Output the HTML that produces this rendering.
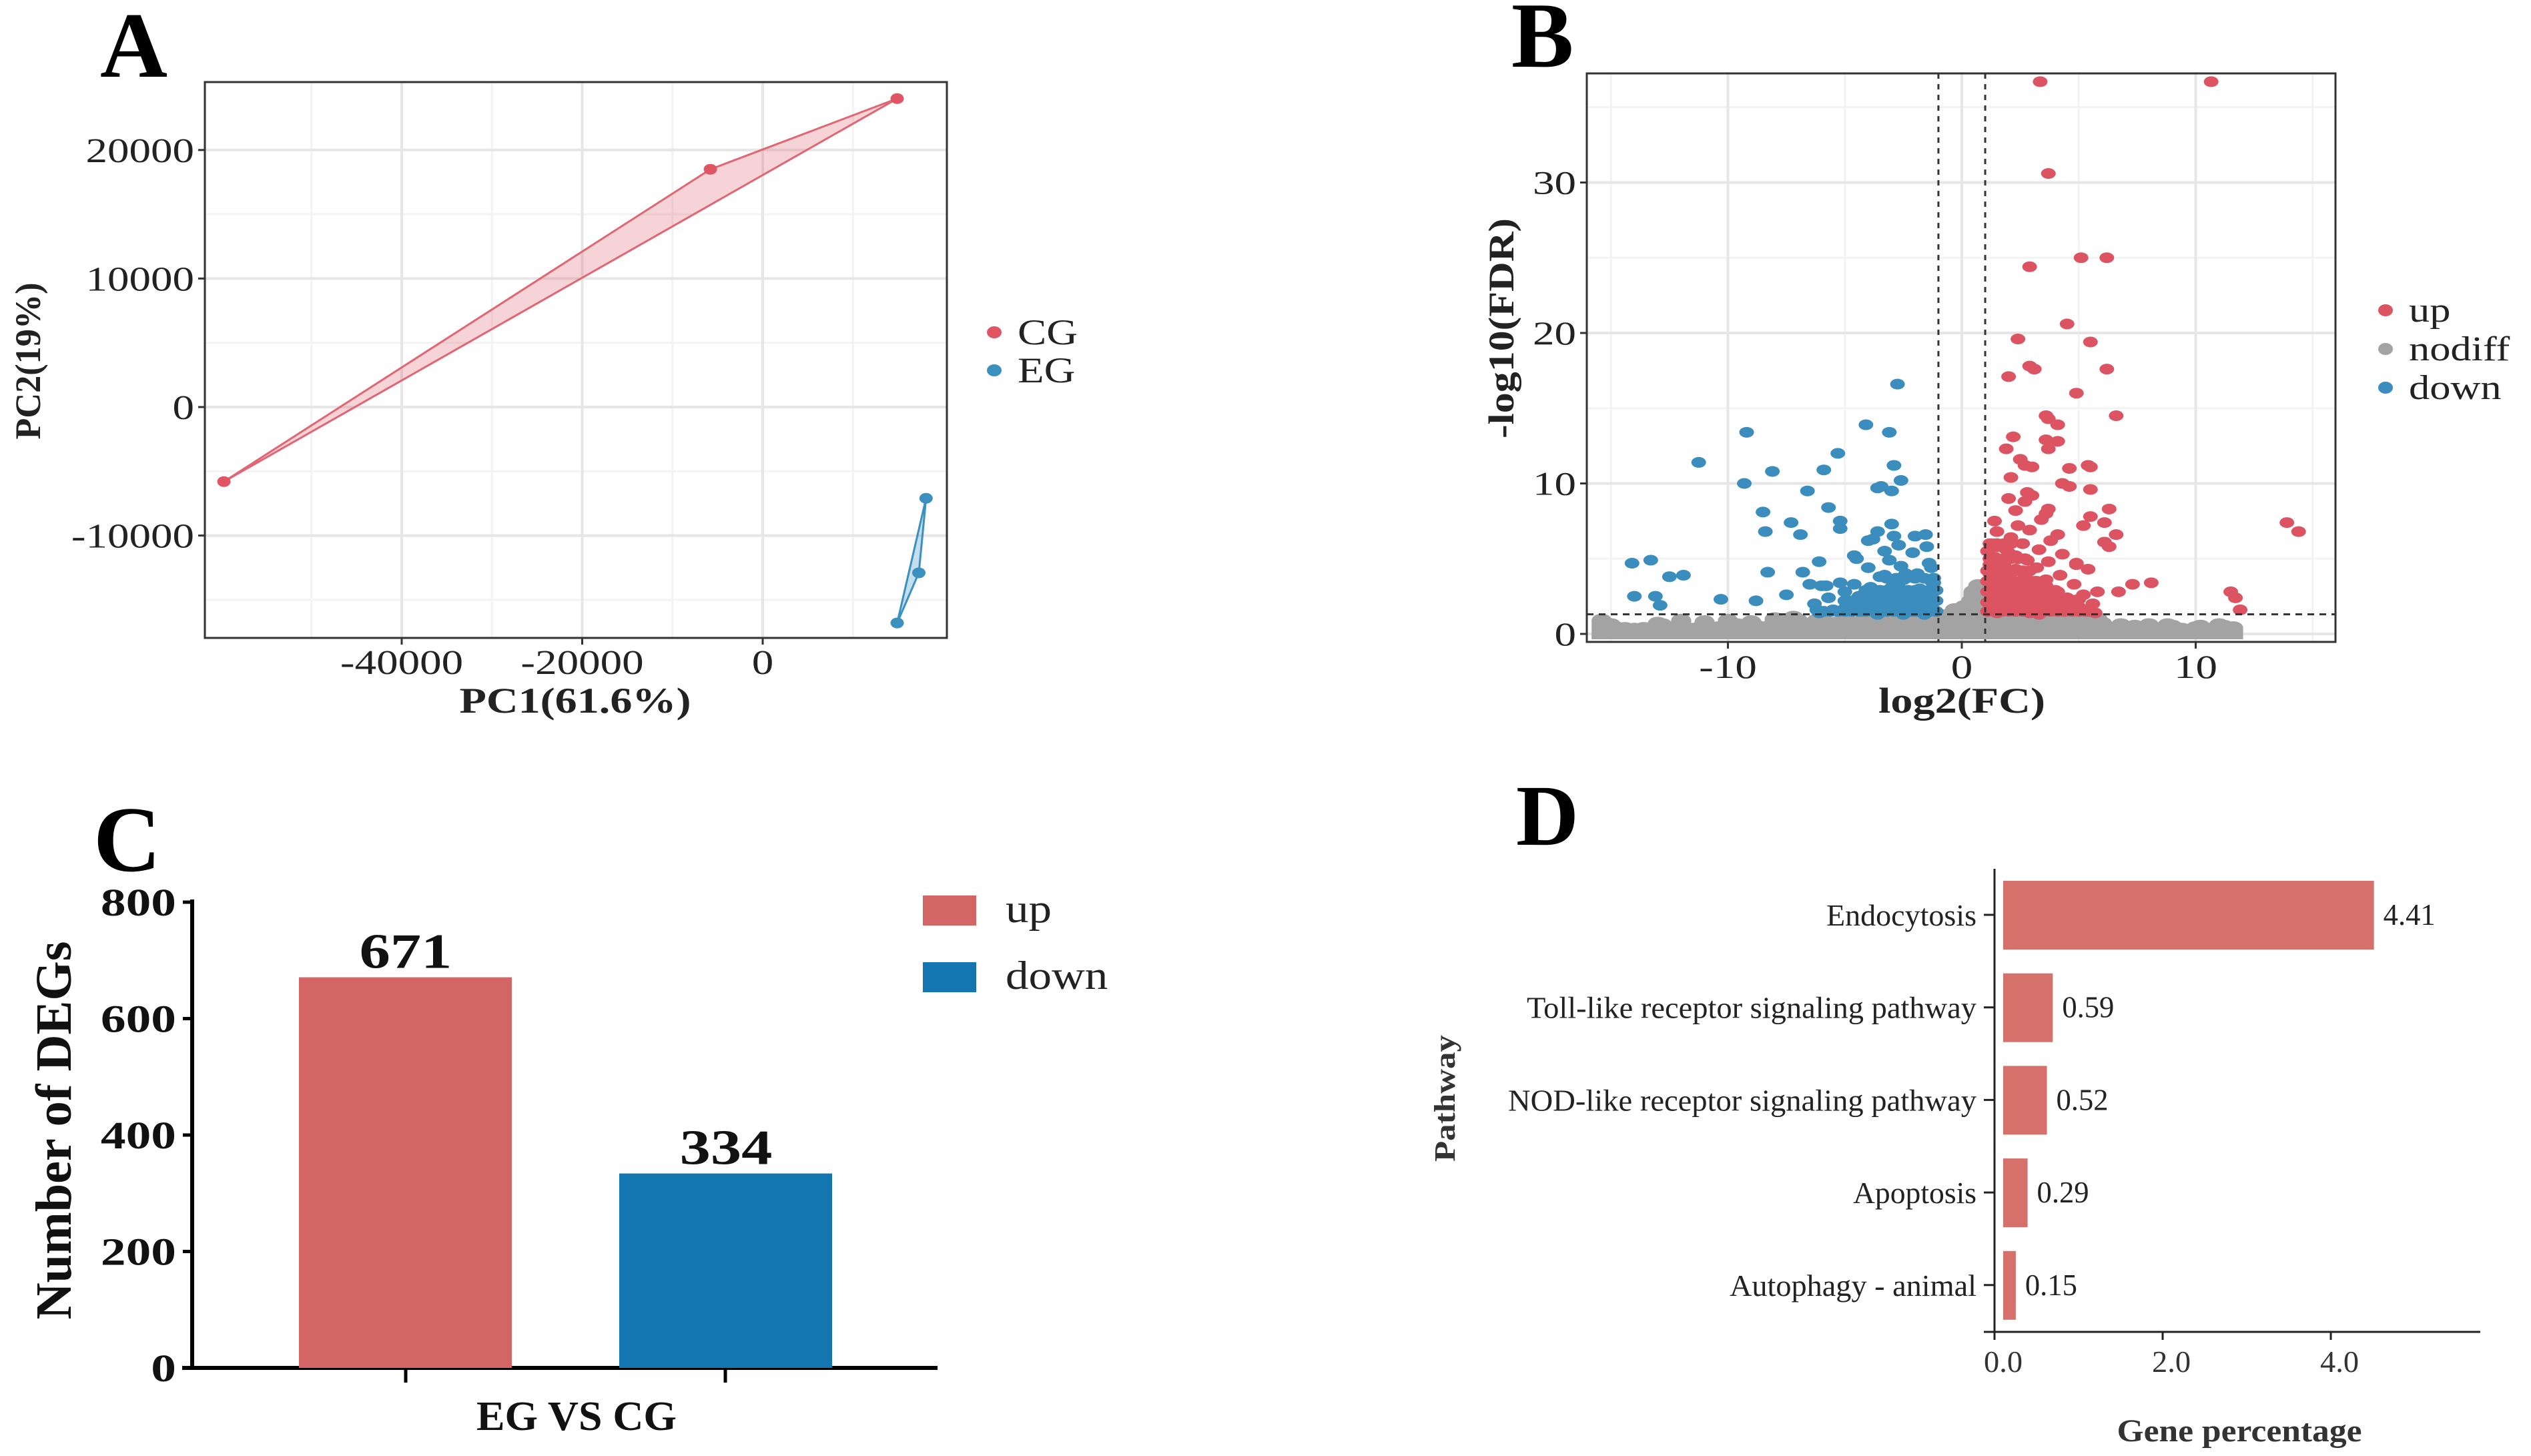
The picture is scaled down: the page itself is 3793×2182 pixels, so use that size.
<!DOCTYPE html>
<html><head><meta charset="utf-8"><style>
html,body{margin:0;padding:0;background:#fff;}
svg{display:block;font-family:"Liberation Serif",serif;}
</style></head><body>
<svg id="fig" width="3793" height="2182" viewBox="0 0 3793 2182" xmlns="http://www.w3.org/2000/svg">
<rect width="3793" height="2182" fill="#fff"/>
<g id="pA"></g>
<g id="pB"></g>
<g id="pC"></g>
<g id="pD"></g>
</svg>
<script>
// ---------- Panel A data ----------
const pcaGroups = ["CG", "EG"];
const pcaCG_x = [14900, -5800, -59700];
const pcaCG_y = [24000, 18500, -5800];
const pcaEG_x = [18100, 17300, 14900];
const pcaEG_y = [-7100, -12900, -16800];
const pcaXTicks = [-40000, -20000, 0];
const pcaYTicks = [-10000, 0, 10000, 20000];

// ---------- Panel B data ----------
const volUp_x = [3.35,10.66,3.7,5.1,6.2,2.9,4.5,2.4,5.5,2.9,3.1,6.2,2.0,4.9,3.6,3.7,6.6,4.1,2.2,3.6,4.1,1.9,3.7,2.5,2.7,3.0,5.4,5.5,4.6,2.1,4.3,4.6,5.5,2.8,3.7,6.3,5.5,6.1,5.2,13.9,14.4,6.6,6.1,6.3,4.9,5.4,7.3,8.1,6.7,11.5,11.7,11.9,5.8,
 1.1,1.2,1.3,1.2,1.4,1.3,1.5,1.6,1.7,1.8,1.9,1.7,2.0,2.1,2.2,2.3,2.1,2.4,2.5,2.6,2.7,2.8,2.6,2.9,3.0,3.1,3.2,3.3,3.4,3.5,3.6,3.7,3.8,3.9,4.0,4.2,4.3,4.4,4.6,4.8,5.0,5.2,5.4,5.6,5.7,2.3,2.7,1.4,3.0,2.0,1.1,1.1,1.5,2.9,3.3,4.9,4.1,3.6,
 1.3,1.5,1.8,2.2,2.5,2.8,3.2,3.6,4.0,4.4,1.4,1.9,2.4,2.9,3.4,3.9,4.5,5.0,1.6,2.1,2.6,3.1,3.6,1.2,1.8,2.3,2.8,1.5,2.0,
 1.1,1.4,1.7,2.0,2.3,2.6,2.9,3.2,3.5,3.8,4.1,4.4,4.7,5.0,5.3,1.1,1.4,1.7,2.0,2.3,2.6,2.9,3.2,3.5,3.8,4.1,4.4,4.7,1.1,1.4,1.7,2.0,2.3,2.6,2.9,3.2,3.5,3.8,4.1,1.1,1.4,1.7,2.0,2.3,2.6,2.9,3.2,3.5,1.1,1.4,1.7,2.0,2.3,2.6,2.9,1.2,1.5,1.8,2.1,2.4,2.7,1.2,1.5,1.8,2.1];
const volUp_y = [36.7,36.7,30.6,25.0,25.0,24.4,20.6,19.6,19.4,17.8,17.6,17.6,17.1,16.0,14.5,14.3,14.5,13.9,13.1,12.9,12.8,12.3,12.3,11.6,11.2,11.1,11.2,11.1,11.0,10.4,10.0,9.8,9.6,9.4,8.3,8.3,7.8,7.4,7.2,7.4,6.8,6.6,6.1,5.8,4.7,4.3,3.3,3.4,2.8,2.8,2.4,1.6,2.8,
 1.5,2.2,3.0,4.0,5.1,6.0,6.8,2.6,3.6,4.6,5.6,1.8,2.4,3.2,4.2,5.2,6.4,7.2,1.6,2.8,3.8,4.9,6.0,6.9,2.0,3.0,4.4,5.6,7.6,2.5,3.6,4.8,6.2,1.7,2.9,3.9,5.3,1.5,2.3,3.3,1.8,2.6,1.5,2.0,1.4,8.2,8.8,7.5,9.2,9.0,3.5,5.5,1.4,1.4,1.3,4.6,6.6,8.0,
 1.8,1.7,1.6,1.9,1.7,1.6,1.8,1.7,1.9,1.6,2.7,2.6,2.5,2.7,2.6,2.5,2.4,2.3,3.4,3.6,3.3,3.5,3.2,4.6,4.4,4.3,4.1,5.8,5.4,
 1.5,1.5,1.5,1.5,1.5,1.5,1.5,1.5,1.5,1.5,1.5,1.5,1.5,1.5,1.5,2.1,2.1,2.1,2.1,2.1,2.1,2.1,2.1,2.1,2.1,2.1,2.1,2.1,2.8,2.8,2.8,2.8,2.8,2.8,2.8,2.8,2.8,2.8,2.8,3.5,3.5,3.5,3.5,3.5,3.5,3.5,3.5,3.5,4.2,4.2,4.2,4.2,4.2,4.2,4.2,5.0,5.0,5.0,5.0,5.0,5.0,6.0,6.0,6.0,6.0];
const volDown_x = [-2.75,-9.2,-4.1,-3.1,-5.3,-11.25,-2.9,-8.1,-5.9,-9.3,-2.6,-3.6,-3.45,-3.0,-6.6,-5.7,-8.5,-5.2,-7.3,-3.0,-3.6,-8.4,-5.2,-6.9,-3.8,-4.0,-1.55,-14.1,-13.3,-12.5,-11.9,-8.3,-6.8,-6.1,-4.6,-14.0,-13.1,-12.9,-10.3,-8.8,-7.5,-6.2,-1.3,
 -1.2,-1.3,-1.2,-1.4,-1.5,-1.7,-1.8,-1.9,-2.1,-2.2,-2.3,-2.5,-2.6,-2.7,-2.8,-3.0,-3.1,-3.2,-3.4,-3.5,-3.7,-3.9,-4.0,-4.2,-4.4,-4.6,-4.8,-5.0,-5.2,-5.5,-5.7,-6.0,-6.3,-6.5,-2.0,-2.9,-1.6,-2.5,-3.6,-4.5,-5.8,-6.1,-3.3,-2.4,
 -1.4,-1.8,-2.2,-2.6,-3.0,-3.4,-3.8,-4.2,-4.6,-5.0,-1.5,-2.0,-2.5,-3.0,-3.5,-4.0,-1.3,-1.9,-2.7,-3.3,
 -1.1,-1.4,-1.7,-2.0,-2.3,-2.6,-2.9,-3.2,-3.5,-3.8,-4.1,-4.4,-4.7,-5.0,-5.3,-5.6,-5.9,-1.1,-1.4,-1.7,-2.0,-2.3,-2.6,-2.9,-3.2,-3.5,-3.8,-4.1,-4.4,-4.7,-5.0,-1.1,-1.4,-1.7,-2.0,-2.3,-2.6,-2.9,-3.2,-3.5,-3.8,-4.1,-1.2,-1.6,-2.0,-2.4,-2.8,-3.2];
const volDown_y = [16.6,13.4,13.9,13.4,12.0,11.4,11.2,10.8,10.9,10.0,10.2,9.7,9.8,9.5,9.5,8.4,8.1,7.5,7.4,7.3,6.8,6.8,7.0,6.6,6.3,6.2,6.6,4.7,4.9,3.8,3.9,4.1,4.1,4.8,5.2,2.5,2.5,1.9,2.3,2.2,2.6,1.6,4.4,
 1.6,2.5,3.4,4.7,5.8,2.0,3.0,4.0,5.4,1.5,2.6,3.6,4.5,5.9,2.1,3.1,4.9,1.6,2.6,3.8,2.0,3.1,4.4,1.5,2.5,3.3,1.9,2.8,3.4,1.6,2.4,3.2,2.0,3.3,6.5,6.5,1.3,1.3,1.3,5.0,3.2,1.4,5.5,4.0,
 1.8,1.7,1.9,1.6,1.8,1.7,1.9,1.6,1.8,1.7,2.7,2.8,2.6,2.5,2.8,2.7,3.5,3.8,3.4,3.9,
 1.5,1.5,1.5,1.5,1.5,1.5,1.5,1.5,1.5,1.5,1.5,1.5,1.5,1.5,1.5,1.5,1.5,2.2,2.2,2.2,2.2,2.2,2.2,2.2,2.2,2.2,2.2,2.2,2.2,2.2,2.2,2.9,2.9,2.9,2.9,2.9,2.9,2.9,2.9,2.9,2.9,2.9,3.7,3.7,3.7,3.7,3.7,3.7];
const volNo_x = [-15.4,-15.0,-14.8,-14.4,-14.0,-13.6,-13.2,-12.8,-12.4,-12.0,-11.6,-11.2,-10.8,-10.4,-10.0,-9.6,-9.2,-8.8,-8.4,-8.0,-7.6,-7.2,-6.8,-6.4,-6.2,-6.0,-5.6,-5.4,-5.0,-4.6,-4.2,-3.8,-3.4,-3.0,-2.6,-2.2,-1.8,-1.4,-1.0,-0.8,-0.6,-0.4,-0.2,0,0.2,0.3,0.4,0.5,0.6,0.7,0.8,0.9,1.2,1.6,2.0,2.4,2.8,3.2,3.6,4.0,4.4,4.8,5.2,5.6,6.0,6.4,7.0,7.6,8.2,8.8,9.4,10.0,10.6,11.2,11.6,-0.1,0.1,-0.3,
 -12.0,-10.0,-8.0,-6.0,-5.0,-4.0,-3.0,-2.0,-1.2,1.0,1.4,1.8,2.2,2.6,3.0,3.4,3.8,4.2,4.6,5.0,5.4,5.8,-11.0,-9.0,-7.0,-13.0,6.8,7.4,8.0,9.0,10.2,11.0,0.6,0.4,-0.5,-0.9];
const volNo_y = [0.9,0.6,0.4,0.35,0.3,0.35,0.3,0.6,0.35,0.4,0.3,0.4,0.35,0.4,0.4,0.6,0.35,0.5,0.4,0.5,0.5,1.1,0.5,0.6,0.9,0.4,0.6,0.7,1.0,0.5,0.9,0.6,1.1,0.7,1.0,0.6,1.1,0.8,0.5,1.2,0.4,1.0,0.3,0.5,0.8,1.5,2.2,2.8,1.2,3.2,2.0,1.0,0.8,0.5,1.0,0.6,1.1,0.7,0.4,1.0,0.6,0.3,0.5,0.3,0.7,0.3,0.3,0.4,0.35,0.6,0.3,0.4,0.3,0.5,0.4,0.9,1.8,1.6,
 0.9,0.9,1.0,1.1,1.2,1.2,1.2,1.2,1.1,1.2,1.1,1.2,1.2,1.1,1.2,1.2,1.1,1.2,1.1,1.0,1.1,1.0,0.8,0.8,0.9,0.7,0.6,0.5,0.6,0.5,0.5,0.6,2.4,1.6,0.8,0.9];
const volXTicks = [-10, 0, 10];
const volYTicks = [0, 10, 20, 30];
const volLegend = ["up", "nodiff", "down"];

// ---------- Panel C data ----------
const degCats = ["up", "down"];
const degVals = [671, 334];
const degYTicks = [0, 200, 400, 600, 800];

// ---------- Panel D data ----------
const pwNames = ["Endocytosis","Toll-like receptor signaling pathway","NOD-like receptor signaling pathway","Apoptosis","Autophagy - animal"];
const pwVals = [4.41, 0.59, 0.52, 0.29, 0.15];
const pwLabels = ["4.41","0.59","0.52","0.29","0.15"];
const pwXTicks = [0, 2, 4];
const pwXTickLabels = ["0.0","2.0","4.0"];

const NS = "http://www.w3.org/2000/svg";
function mk(parent, tag, attrs) {
  const el = document.createElementNS(NS, tag);
  for (const k in attrs) el.setAttribute(k, attrs[k]);
  parent.appendChild(el);
  return el;
}
function T(parent, name, x, y, s, size, o) {
  o = o || {};
  const el = document.createElementNS(NS, "text");
  
  
  let tr = "translate(" + x + "," + y + ")";
  if (o.rot) tr += " rotate(" + o.rot + ")";
  if (o.sx) tr += " scale(" + o.sx + ",1)";
  el.setAttribute("transform", tr);
  el.setAttribute("font-size", size);
  el.setAttribute("text-anchor", o.anchor || "start");
  el.setAttribute("font-weight", o.weight || "normal");
  el.setAttribute("fill", o.fill || "#222");
  if (o.len) { el.setAttribute("textLength", o.len); el.setAttribute("lengthAdjust", "spacingAndGlyphs"); }
  el.textContent = s;
  parent.appendChild(el);
  return el;
}

// ===== Panel A =====
(function(){
  const g = document.getElementById("pA");
  const L=307,R=1419,Tp=123,B=956;
  const X = v => 1143 + v*270.5/20000;
  const Y = v => 610 - v*192.6/10000;
  [-50000,-30000,-10000,10000].forEach(v=>{
    const l = mk(g,"line",{x1:X(v),x2:X(v),y1:Tp,y2:B,stroke:"#f3f3f3","stroke-width":3});
    
  });
  [-15000,-5000,5000,15000].forEach(v=>{
    const l = mk(g,"line",{x1:L,x2:R,y1:Y(v),y2:Y(v),stroke:"#f3f3f3","stroke-width":3});
    
  });
  pcaXTicks.forEach(v=>{
    const l = mk(g,"line",{x1:X(v),x2:X(v),y1:Tp,y2:B,stroke:"#e6e6e6","stroke-width":4});
    
    const tk = mk(g,"line",{x1:X(v),x2:X(v),y1:B,y2:B+10,stroke:"#333","stroke-width":3});
    
    T(g,"x-tick-label",X(v),B+54,String(v),52,{anchor:"middle",sx:1.25});
  });
  pcaYTicks.forEach(v=>{
    const l = mk(g,"line",{x1:L,x2:R,y1:Y(v),y2:Y(v),stroke:"#e6e6e6","stroke-width":4});
    
    const tk = mk(g,"line",{x1:L-10,x2:L,y1:Y(v),y2:Y(v),stroke:"#333","stroke-width":3});
    
    T(g,"y-tick-label",L-16,Y(v)+18,String(v),52,{anchor:"end",sx:1.25});
  });
  const frame = mk(g,"rect",{x:L,y:Tp,width:R-L,height:B-Tp,fill:"none",stroke:"#333","stroke-width":3});
  
  const ptsCG = pcaCG_x.map((v,i)=>X(v)+","+Y(pcaCG_y[i])).join(" ");
  const hull = mk(g,"polygon",{points:ptsCG,fill:"rgba(225,110,120,0.3)",stroke:"#e06673","stroke-width":3});
  
  const ptsEG = pcaEG_x.map((v,i)=>X(v)+","+Y(pcaEG_y[i])).join(" ");
  const hull2 = mk(g,"polygon",{points:ptsEG,fill:"rgba(60,145,195,0.3)",stroke:"#3b90c0","stroke-width":3});
  
  pcaCG_x.forEach((v,i)=>{
    const c = mk(g,"ellipse",{cx:X(v),cy:Y(pcaCG_y[i]),rx:10,ry:8,fill:"#e05563"});
    
    
  });
  pcaEG_x.forEach((v,i)=>{
    const c = mk(g,"ellipse",{cx:X(v),cy:Y(pcaEG_y[i]),rx:10,ry:8,fill:"#3b90c0"});
    
    
  });
  T(g,"x-axis-title",862,1068,"PC1(61.6%)",54,{anchor:"middle",weight:"bold",len:347});
  T(g,"y-axis-title",60,541,"PC2(19%)",54,{anchor:"middle",weight:"bold",rot:-90,len:235});
  const cols = ["#e05563","#3b90c0"];
  pcaGroups.forEach((n,i)=>{
    const c = mk(g,"ellipse",{cx:1490,cy:498+i*57,rx:11,ry:9,fill:cols[i]});
    
    T(g,"legend-label-"+n.toLowerCase(),1525,516+i*57,n,54,{sx:1.2});
  });
  T(g,"panel-label-a",150,115,"A",140,{weight:"bold",fill:"#000"});
})();

// ===== Panel B =====
(function(){
  const g = document.getElementById("pB");
  const L=2378,R=3500,Tp=110,B=962;
  const X = v => 2940 + v*35.05;
  const Y = v => 950 - v*22.55;
  [-15,-5,5,15].forEach(v=>{
    const l = mk(g,"line",{x1:X(v),x2:X(v),y1:Tp,y2:B,stroke:"#f3f3f3","stroke-width":3});
    
  });
  [5,15,25,35].forEach(v=>{
    const l = mk(g,"line",{x1:L,x2:R,y1:Y(v),y2:Y(v),stroke:"#f3f3f3","stroke-width":3});
    
  });
  volXTicks.forEach(v=>{
    const l = mk(g,"line",{x1:X(v),x2:X(v),y1:Tp,y2:B,stroke:"#e6e6e6","stroke-width":4});
    
    const tk = mk(g,"line",{x1:X(v),x2:X(v),y1:B,y2:B+10,stroke:"#333","stroke-width":3});
    
    T(g,"x-tick-label",X(v),B+54,String(v),50,{anchor:"middle",sx:1.3});
  });
  volYTicks.forEach(v=>{
    const l = mk(g,"line",{x1:L,x2:R,y1:Y(v),y2:Y(v),stroke:"#e6e6e6","stroke-width":4});
    
    const tk = mk(g,"line",{x1:L-10,x2:L,y1:Y(v),y2:Y(v),stroke:"#333","stroke-width":3});
    
    T(g,"y-tick-label",L-16,Y(v)+17,String(v),50,{anchor:"end",sx:1.3});
  });
  volNo_x.forEach((v,i)=>{
    const r = mk(g,"rect",{x:X(v)-15,y:Y(volNo_y[i]),width:30,height:Math.max(0,Y(0)-Y(volNo_y[i])+8),fill:"#a3a3a3"});
    
  });
  volNo_x.forEach((v,i)=>{
    const c = mk(g,"ellipse",{cx:X(v),cy:Y(volNo_y[i]),rx:15,ry:10,fill:"#a3a3a3"});
    
  });
  volUp_x.forEach((v,i)=>{
    const c = mk(g,"ellipse",{cx:X(v),cy:Y(volUp_y[i]),rx:11,ry:8,fill:"#dc5462"});
    
  });
  volDown_x.forEach((v,i)=>{
    const c = mk(g,"ellipse",{cx:X(v),cy:Y(volDown_y[i]),rx:11,ry:8,fill:"#3a8dbd"});
    
  });
  [-1,1].forEach(v=>{
    const l = mk(g,"line",{x1:X(v),x2:X(v),y1:Tp,y2:B,stroke:"#333","stroke-width":3,"stroke-dasharray":"8 8"});
    
  });
  const h = mk(g,"line",{x1:L,x2:R,y1:Y(1.3),y2:Y(1.3),stroke:"#333","stroke-width":3,"stroke-dasharray":"10 8"});
  
  const frame = mk(g,"rect",{x:L,y:Tp,width:R-L,height:B-Tp,fill:"none",stroke:"#333","stroke-width":3});
  
  T(g,"x-axis-title",2940,1068,"log2(FC)",54,{anchor:"middle",weight:"bold",len:250});
  T(g,"y-axis-title",2268,492,"-log10(FDR)",54,{anchor:"middle",weight:"bold",rot:-90,len:330});
  const cols = ["#dc5462","#a3a3a3","#3a8dbd"];
  volLegend.forEach((n,i)=>{
    const c = mk(g,"ellipse",{cx:3575,cy:465+i*58,rx:11,ry:9,fill:cols[i]});
    
    T(g,"legend-label-"+n,3610,482+i*58,n,52,{sx:1.2});
  });
  T(g,"panel-label-b",2265,100,"B",140,{weight:"bold",fill:"#000"});
})();

// ===== Panel C =====
(function(){
  const g = document.getElementById("pC");
  const Y = v => 2050 - v*0.8725;
  const barX = [448, 928];
  const cols = ["#d46565","#1476b1"];
  const ax = mk(g,"line",{x1:288,x2:288,y1:Y(800)-4,y2:2052,stroke:"#000","stroke-width":6});
  
  const bx = mk(g,"line",{x1:273,x2:1405,y1:2050,y2:2050,stroke:"#000","stroke-width":6});
  
  degYTicks.forEach(v=>{
    const tk = mk(g,"line",{x1:274,x2:288,y1:Y(v),y2:Y(v),stroke:"#000","stroke-width":5});
    
    T(g,"y-tick-label",264,Y(v)+20,String(v),58,{anchor:"end",weight:"bold",sx:1.3,fill:"#111"});
  });
  degVals.forEach((v,i)=>{
    const r = mk(g,"rect",{x:barX[i],y:Y(v),width:319,height:2050-Y(v),fill:cols[i]});
    
    
    T(g,"value-label-"+degCats[i],barX[i]+160,Y(v)-14,String(v),74,{anchor:"middle",weight:"bold",sx:1.25,fill:"#111"});
    const tk = mk(g,"line",{x1:[608,1087][i],x2:[608,1087][i],y1:2050,y2:2072,stroke:"#000","stroke-width":5});
    
  });
  T(g,"x-axis-label",864,2143,"EG VS CG",62,{anchor:"middle",weight:"bold",len:300,fill:"#111"});
  T(g,"y-axis-title",106,1694,"Number of DEGs",76,{anchor:"middle",weight:"bold",rot:-90,len:567,fill:"#111"});
  degCats.forEach((n,i)=>{
    const r = mk(g,"rect",{x:1383,y:1342+i*100,width:80,height:45,fill:cols[i]});
    
    T(g,"legend-label-"+n,1507,1382+i*100,n,60,{sx:1.15});
  });
  T(g,"panel-label-c",140,1305,"C",140,{weight:"bold",fill:"#000"});
})();

// ===== Panel D =====
(function(){
  const g = document.getElementById("pD");
  const X = v => 3002 + v*126;
  const Yc = i => 1371 + i*138.7;
  const ay = mk(g,"line",{x1:2989,x2:2989,y1:1302,y2:1996,stroke:"#222","stroke-width":3});
  
  const axl = mk(g,"line",{x1:2973,x2:3717,y1:1996,y2:1996,stroke:"#222","stroke-width":3});
  
  pwXTicks.forEach((v,i)=>{
    const tk = mk(g,"line",{x1:X(v)-13,x2:X(v)-13,y1:1996,y2:2008,stroke:"#222","stroke-width":3});
    
    T(g,"x-tick-label",X(v),2056,pwXTickLabels[i],46,{anchor:"middle",len:58,fill:"#333"});
  });
  pwVals.forEach((v,i)=>{
    const r = mk(g,"rect",{x:X(0),y:Yc(i)-51,width:v*126,height:103,fill:"#d6706a"});
    
    
    const tk = mk(g,"line",{x1:2973,x2:2989,y1:Yc(i),y2:Yc(i),stroke:"#222","stroke-width":3});
    
    T(g,"value-label",X(v)+14,Yc(i)+15,pwLabels[i],46,{len:78,fill:"#222"});
  });
  const lens = [225,674,702,185,370];
  pwNames.forEach((n,i)=>{
    T(g,"category-label",2962,Yc(i)+16,n,46,{anchor:"end",len:lens[i],fill:"#222"});
  });
  T(g,"x-axis-title",3356,2160,"Gene percentage",48,{anchor:"middle",weight:"bold",len:367,fill:"#333"});
  T(g,"y-axis-title",2180,1646,"Pathway",44,{anchor:"middle",weight:"bold",rot:-90,len:190,fill:"#333"});
  T(g,"panel-label-d",2272,1266,"D",130,{weight:"bold",fill:"#000"});
})();
</script>
</body></html>
